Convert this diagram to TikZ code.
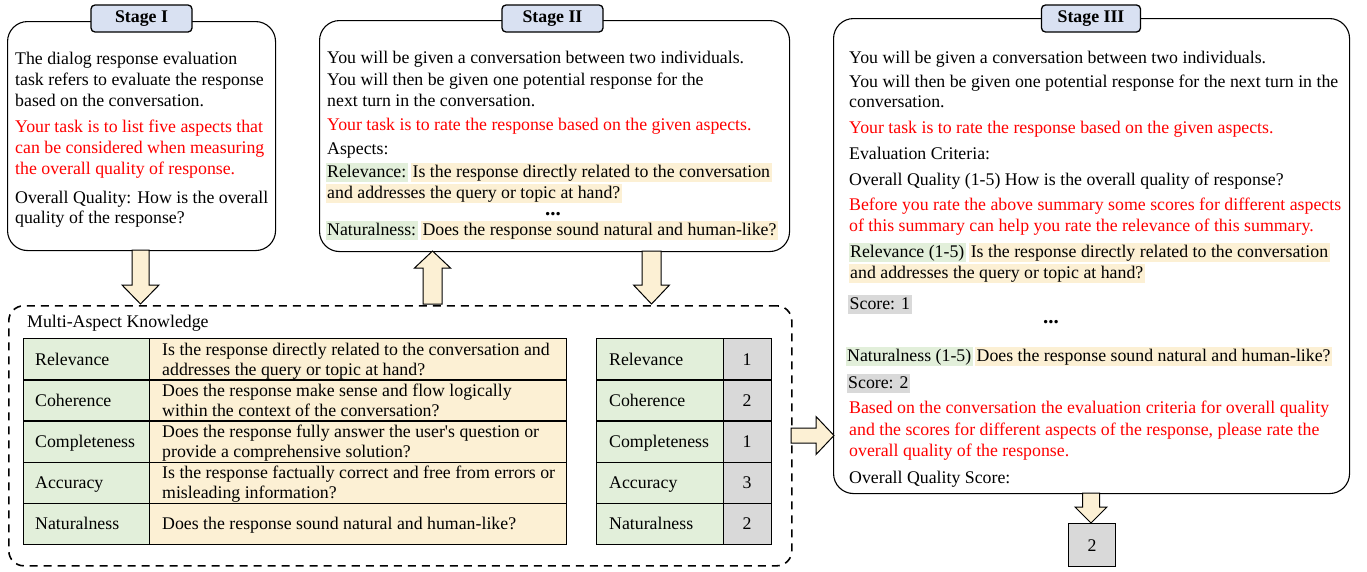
\documentclass[tikz,border=0pt]{standalone}
\usepackage{fontspec}
\setmainfont{Liberation Serif}
\usetikzlibrary{calc}
\definecolor{kgreen}{HTML}{E2EFDA}
\definecolor{korange}{HTML}{FCF0D4}
\definecolor{kgray}{HTML}{D9D9D9}
\definecolor{tabblue}{HTML}{D9E1F2}
\definecolor{kred}{HTML}{FF0000}
\definecolor{arrowfill}{HTML}{FCF0D4}
\newcommand\vblockarrow[6]{% center x, tail y, head base y, tip y, half body, half head
  \draw[blk] (#1-#5,#2) -- (#1-#5,#3) -- (#1-#6,#3) -- (#1,#4) -- (#1+#6,#3) -- (#1+#5,#3) -- (#1+#5,#2) -- cycle;}
\newcommand\hblockarrow[6]{% center y, tail x, head base x, tip x, half body, half head
  \draw[blk] (#2,#1-#5) -- (#3,#1-#5) -- (#3,#1-#6) -- (#4,#1) -- (#3,#1+#6) -- (#3,#1+#5) -- (#2,#1+#5) -- cycle;}
\begin{document}
\begin{tikzpicture}[x=1pt,y=-1pt,
  every node/.style={font=\fontsize{17.8}{21}\selectfont},
  txt/.style={anchor=base west, inner sep=0pt},
  redtxt/.style={txt, text=kred},
  hl/.style={anchor=base west, inner xsep=1.5pt, inner ysep=0pt, text height=14pt, text depth=5pt},
  hlg/.style={hl, fill=kgreen},
  hlo/.style={hl, fill=korange},
  hlgray/.style={hl, fill=kgray},
  stagebox/.style={draw, line width=1.1pt, rounded corners=20pt, anchor=north west, inner sep=0pt},
  tabbox/.style={draw, line width=1.3pt, fill=tabblue, rounded corners=4pt, inner sep=0pt,
     font=\fontsize{17.8}{21}\selectfont\bfseries},
  blk/.style={draw, line width=1pt, fill=arrowfill, line join=miter},
  cell/.style={draw, line width=1.4pt, anchor=north west, inner sep=0pt, minimum height=41.2pt},
  dots/.style={inner sep=0pt, font=\fontsize{21}{21}\selectfont\bfseries}
]
\useasboundingbox (0,0) rectangle (1367,571);

% ---------- Stage boxes ----------
\node[stagebox, minimum width=268pt, minimum height=229pt] (s1) at (7,21) {};
\node[stagebox, minimum width=470pt, minimum height=231pt] (s2) at (319,20) {};
\node[stagebox, minimum width=516pt, minimum height=475pt] (s3) at (833,18) {};
\node[tabbox, minimum width=101pt, minimum height=27pt] (t1) at (141.5,18.5) {Stage I};
\node[tabbox, minimum width=101pt, minimum height=27pt] (t2) at (552.5,18.5) {Stage II};
\node[tabbox, minimum width=99pt, minimum height=27pt] (t3) at (1091,18.5) {Stage III};

% ---------- Stage I text ----------
\node[txt] (a1) at (15,64) {The dialog response evaluation};
\node[txt] (a2) at (15,85) {task refers to evaluate the response};
\node[txt] (a3) at (15,106) {based on the conversation.};
\node[redtxt] (a4) at (15,132) {Your task is to list five aspects that};
\node[redtxt] (a5) at (15,153) {can be considered when measuring};
\node[redtxt] (a6) at (15,174) {the overall quality of response.};
\node[txt] (a7) at (15,203) {Overall Quality: How is the overall};
\node[txt] (a8) at (15,223) {quality of the response?};

% ---------- Stage II text ----------
\node[txt] (b1) at (327,63) {You will be given a conversation between two individuals.};
\node[txt] (b2) at (327,85) {You will then be given one potential response for the};
\node[txt] (b3) at (327,106) {next turn in the conversation.};
\node[redtxt] (b4) at (327,130) {Your task is to rate the response based on the given aspects.};
\node[txt] (b5) at (327,154) {Aspects:};
\node[hlg] (b6) at (325.5,177) {Relevance:};
\node[hlo] (b7) at ($(b6.base east)+(3,0)$) {Is the response directly related to the conversation};
\node[hlo] (b8) at (325.5,198) {and addresses the query or topic at hand?};
\node[dots] (b9) at (553,214) {...};
\node[hlg] (b10) at (325.5,235) {Naturalness:};
\node[hlo] (b11) at ($(b10.base east)+(3,0)$) {Does the response sound natural and human-like?};

% ---------- Stage III text ----------
\node[txt] (c1) at (849,63) {You will be given a conversation between two individuals.};
\node[txt] (c2) at (849,87) {You will then be given one potential response for the next turn in the};
\node[txt] (c3) at (849,107) {conversation.};
\node[redtxt] (c4) at (849,133) {Your task is to rate the response based on the given aspects.};
\node[txt] (c5) at (849,159) {Evaluation Criteria:};
\node[txt] (c6) at (849,185) {Overall Quality (1-5) How is the overall quality of response?};
\node[redtxt] (c7) at (849,210) {Before you rate the above summary some scores for different aspects};
\node[redtxt] (c8) at (849,231) {of this summary can help you rate the relevance of this summary.};
\node[hlg] (c9) at (848.5,257) {Relevance (1-5)};
\node[hlo] (c10) at ($(c9.base east)+(3,0)$) {Is the response directly related to the conversation};
\node[hlo] (c11) at (848.5,278) {and addresses the query or topic at hand?};
\node[hlgray] (c12) at (848,309) {Score: 1};
\node[dots] (c13) at (1051,322) {...};
\node[hlg] (c14) at (845.5,361) {Naturalness (1-5)};
\node[hlo] (c15) at ($(c14.base east)+(2,0)$) {Does the response sound natural and human-like?};
\node[hlgray] (c16) at (846.5,388) {Score: 2};
\node[redtxt] (c17) at (849,413) {Based on the conversation the evaluation criteria for overall quality};
\node[redtxt] (c18) at (849,435) {and the scores for different aspects of the response, please rate the};
\node[redtxt] (c19) at (849,456) {overall quality of the response.};
\node[txt] (c20) at (849,483) {Overall Quality Score:};

% ---------- Multi-aspect knowledge ----------
\node[draw, dash pattern=on 8pt off 6pt, line width=1.6pt, rounded corners=15pt,
      anchor=north west, inner sep=0pt, minimum width=783pt, minimum height=260pt] (mak) at (8,305) {};
\node[txt] (makl) at (27,327) {Multi-Aspect Knowledge};

\foreach \i in {0,...,4}{
  \node[cell, fill=kgreen, minimum width=126pt] (ka\i) at (23,338+41.2*\i) {};
  \node[cell, fill=korange, minimum width=417pt] (kb\i) at (149,338+41.2*\i) {};
  \node[cell, fill=kgreen, minimum width=127pt] (sa\i) at (596,338+41.2*\i) {};
  \node[cell, fill=kgray, minimum width=48pt] (sb\i) at (723,338+41.2*\i) {};
}

% table 1 text
\node[txt] (k1) at (35,365) {Relevance};
\node[txt] (k2) at (35,406.2) {Coherence};
\node[txt] (k3) at (35,447.4) {Completeness};
\node[txt] (k4) at (35,488.6) {Accuracy};
\node[txt] (k5) at (35,529.8) {Naturalness};
\node[txt] (q1a) at (162,355) {Is the response directly related to the conversation and};
\node[txt] (q1b) at (162,375) {addresses the query or topic at hand?};
\node[txt] (q2a) at (162,396.2) {Does the response make sense and flow logically};
\node[txt] (q2b) at (162,416.2) {within the context of the conversation?};
\node[txt] (q3a) at (162,437.4) {Does the response fully answer the user\textquotesingle s question or};
\node[txt] (q3b) at (162,457.4) {provide a comprehensive solution?};
\node[txt] (q4a) at (162,478.6) {Is the response factually correct and free from errors or};
\node[txt] (q4b) at (162,498.6) {misleading information?};
\node[txt] (q5) at (162,529.8) {Does the response sound natural and human-like?};

% table 2 text
\node[txt] (m1) at (609,365) {Relevance};
\node[txt] (m2) at (609,406.2) {Coherence};
\node[txt] (m3) at (609,447.4) {Completeness};
\node[txt] (m4) at (609,488.6) {Accuracy};
\node[txt] (m5) at (609,529.8) {Naturalness};
\node[anchor=base, inner sep=0pt] (n1) at (747,365) {1};
\node[anchor=base, inner sep=0pt] (n2) at (747,406.2) {2};
\node[anchor=base, inner sep=0pt] (n3) at (747,447.4) {1};
\node[anchor=base, inner sep=0pt] (n4) at (747,488.6) {3};
\node[anchor=base, inner sep=0pt] (n5) at (747,529.8) {2};

% ---------- result ----------
\node[draw, fill=kgray, line width=1.3pt, anchor=north west, inner sep=0pt,
      minimum width=47pt, minimum height=43pt] (res) at (1068,523) {2};

% ---------- block arrows ----------
\vblockarrow{140.5}{250}{285}{304}{8.5}{18.5}
\vblockarrow{432.5}{304}{268}{251}{9.5}{18}
\vblockarrow{651.5}{251}{285}{304}{9.5}{18}
\hblockarrow{435.5}{791}{816}{834}{7.5}{19}
\vblockarrow{1091}{493}{507}{523}{8.5}{16}
\end{tikzpicture}
\end{document}
